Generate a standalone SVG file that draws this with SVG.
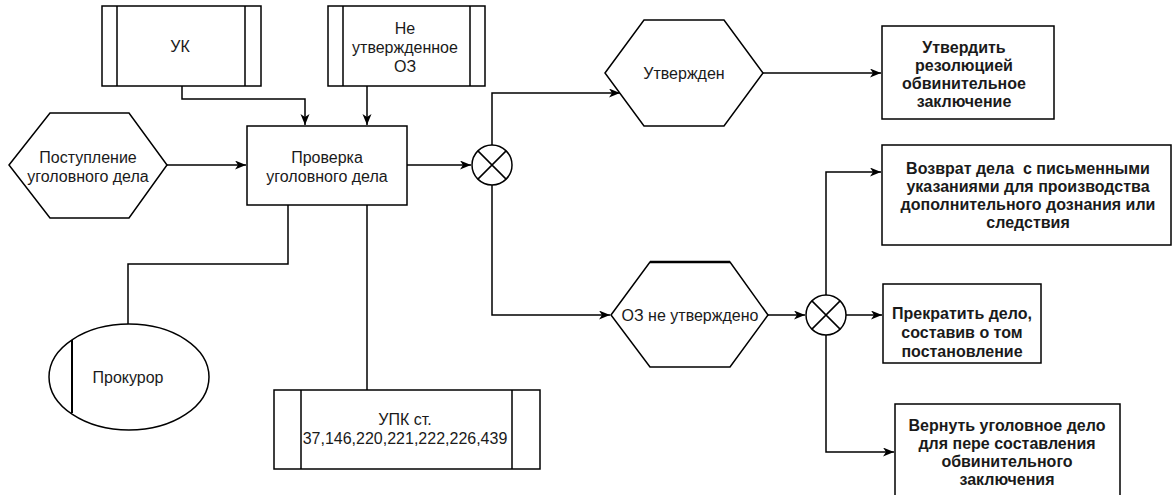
<svg xmlns="http://www.w3.org/2000/svg" width="1173" height="495" viewBox="0 0 1173 495">
  <style>
    .shape { fill: #ffffff; stroke: #000000; stroke-width: 1.5; }
    .line { fill: none; stroke: #000000; stroke-width: 1.5; }
    .conn { fill: none; stroke: #000000; stroke-width: 1.5; marker-end: url(#arrow); }
    .lbl { font-family: "Liberation Sans", Arial, sans-serif; font-size: 16px; fill: #1a1a1a; text-anchor: middle; white-space: pre; }
    .bold { font-weight: bold; }
  </style>
  <defs>
    <marker id="arrow" markerUnits="userSpaceOnUse" markerWidth="12" markerHeight="10" refX="11" refY="4.5" orient="auto">
      <path d="M0,0 L11,4.5 L0,9 L3,4.5 Z" fill="#000000"/>
    </marker>
  </defs>

  <rect width="1173" height="495" fill="#ffffff"/>

  <!-- connectors -->
  <g id="connectors">
    <path class="conn" d="M182,86 V99 H305 V125"/>
    <path class="conn" d="M367,86 V125"/>
    <path class="conn" d="M167,165 H246"/>
    <path class="line" d="M288,205 V264 H128 V324"/>
    <path class="line" d="M367,205 V390"/>
    <path class="conn" d="M407,165 H471"/>
    <path class="conn" d="M492,145 V93 H620"/>
    <path class="conn" d="M492,185 V315 H610"/>
    <path class="conn" d="M763,73 H881"/>
    <path class="conn" d="M768,315 H805"/>
    <path class="conn" d="M846,315 H882"/>
    <path class="conn" d="M826,295 V172 H881"/>
    <path class="conn" d="M826,335 V452 H894"/>
  </g>

  <!-- source documents -->
  <g id="node-uk">
    <rect class="shape" x="102" y="6" width="159" height="80"/>
    <path class="line" d="M117,6 V86 M245,6 V86"/>
    <text class="lbl" x="180" y="52">УК</text>
  </g>
  <g id="node-oz-draft">
    <rect class="shape" x="328" y="6" width="157" height="80"/>
    <path class="line" d="M343,6 V86 M470,6 V86"/>
    <text class="lbl" x="405" y="34">Не</text>
    <text class="lbl" x="405" y="53">утвержденное</text>
    <text class="lbl" x="405" y="72">ОЗ</text>
  </g>

  <!-- incoming event -->
  <g id="node-receipt">
    <polygon class="shape" points="9,165 50,113 129,113 167,165 129,218 50,218"/>
    <text class="lbl" x="88" y="163">Поступление</text>
    <text class="lbl" x="88" y="182">уголовного дела</text>
  </g>

  <!-- main check -->
  <g id="node-check">
    <rect class="shape" x="247" y="126" width="160" height="79"/>
    <text class="lbl" x="327" y="163">Проверка</text>
    <text class="lbl" x="327" y="182">уголовного дела</text>
  </g>

  <!-- performer -->
  <g id="node-prosecutor">
    <ellipse class="shape" cx="129" cy="377" rx="80" ry="53"/>
    <path class="line" d="M72,340 V413" style="stroke-width:2"/>
    <text class="lbl" x="128" y="383">Прокурор</text>
  </g>

  <!-- legal basis -->
  <g id="node-law">
    <rect class="shape" x="274" y="390" width="266" height="79"/>
    <path class="line" d="M301,390 V469 M512,390 V469"/>
    <text class="lbl" x="405" y="425">УПК ст.</text>
    <text class="lbl" x="405" y="444">37,146,220,221,222,226,439</text>
  </g>

  <!-- XOR gates -->
  <g id="gate-1">
    <circle class="shape" cx="492" cy="165" r="20"/>
    <path class="line" d="M477.9,150.9 L506.1,179.1 M506.1,150.9 L477.9,179.1"/>
  </g>
  <g id="gate-2">
    <circle class="shape" cx="826" cy="315" r="20"/>
    <path class="line" d="M811.9,300.9 L840.1,329.1 M840.1,300.9 L811.9,329.1"/>
  </g>

  <!-- result events -->
  <g id="node-approved">
    <polygon class="shape" points="605,73 644,20 724,20 763,73 724,126 644,126"/>
    <text class="lbl" x="684" y="79">Утвержден</text>
  </g>
  <g id="node-not-approved">
    <polygon class="shape" points="611,315 650,262 730,262 768,315 730,367 650,367"/>
    <path class="line" d="M650,262 H730" style="stroke-width:2.5"/>
    <text class="lbl" x="690" y="321">ОЗ не утверждено</text>
  </g>

  <!-- actions -->
  <g id="node-confirm">
    <rect class="shape" x="882" y="26" width="172" height="93"/>
    <text class="lbl bold" x="964" y="53">Утвердить</text>
    <text class="lbl bold" x="964" y="71">резолюцией</text>
    <text class="lbl bold" x="964" y="89">обвинительное</text>
    <text class="lbl bold" x="964" y="107">заключение</text>
  </g>
  <g id="node-return">
    <rect class="shape" x="882" y="145" width="289" height="100"/>
    <text class="lbl bold" x="1028" y="174" xml:space="preserve">Возврат дела  с письменными</text>
    <text class="lbl bold" x="1028" y="192">указаниями для производства</text>
    <text class="lbl bold" x="1028" y="210">дополнительного дознания или</text>
    <text class="lbl bold" x="1028" y="228">следствия</text>
  </g>
  <g id="node-terminate">
    <rect class="shape" x="883" y="284" width="158" height="79"/>
    <text class="lbl bold" x="962" y="319">Прекратить дело,</text>
    <text class="lbl bold" x="962" y="338">составив о том</text>
    <text class="lbl bold" x="962" y="357">постановление</text>
  </g>
  <g id="node-redo">
    <rect class="shape" x="895" y="404" width="225" height="100"/>
    <text class="lbl bold" x="1007" y="431">Вернуть уголовное дело</text>
    <text class="lbl bold" x="1007" y="449">для пере составления</text>
    <text class="lbl bold" x="1007" y="467">обвинительного</text>
    <text class="lbl bold" x="1007" y="485">заключения</text>
  </g>
</svg>
